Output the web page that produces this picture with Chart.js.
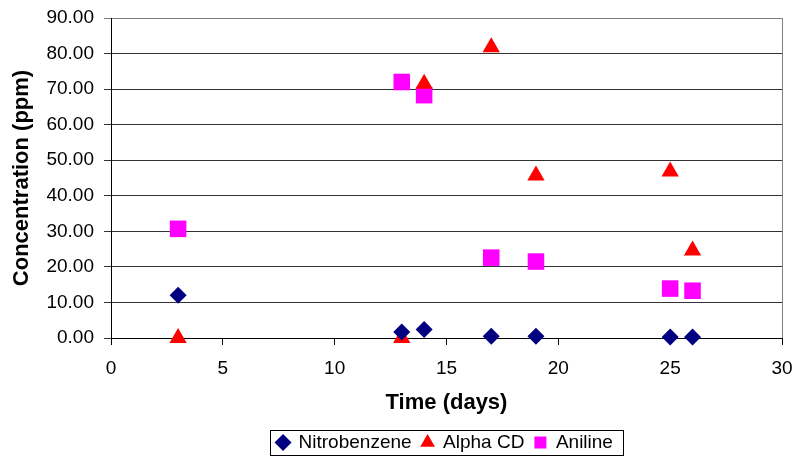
<!DOCTYPE html>
<html>
<head>
<meta charset="utf-8">
<script src="https://cdn.jsdelivr.net/npm/chart.js@4"></script>
<style>
  html, body { margin: 0; padding: 0; background: #fff; }
  #wrap { width: 795px; height: 459px; }
</style>
</head>
<body>
<div id="wrap"><canvas id="chart" width="795" height="459"></canvas></div>
<script>
const days = [3, 13, 14, 17, 19, 25, 26];
const nitrobenzene = [12.0, 1.7, 2.4, 0.5, 0.5, 0.3, 0.3];
const alphaCD = [0, 0, 71.5, 81.8, 45.7, 46.8, 24.6];
const aniline = [30.7, 72.0, 68.3, 22.6, 21.5, 13.9, 13.3];
const xTicks = [0, 5, 10, 15, 20, 25, 30];
const yTicks = [0, 10, 20, 30, 40, 50, 60, 70, 80, 90];

const FONT = '"Liberation Sans", Arial, sans-serif';

function points(ys) {
  return days.map((d, i) => ({ x: d, y: ys[i] }));
}

// grey frame round the plot area + a box round the legend
const framePlugin = {
  id: 'frame',
  afterLayout(chart) {
    // the legend in the original sits a bit right of centre
    chart.legend.left += 54;
    chart.legend.right += 54;
  },
  afterDraw(chart) {
    const c = chart.ctx;
    const a = chart.chartArea;
    c.save();
    c.strokeStyle = '#808080';
    c.lineWidth = 1;
    c.beginPath();
    c.moveTo(Math.round(a.right) + 0.5, a.top);
    c.lineTo(Math.round(a.right) + 0.5, a.bottom);
    c.stroke();

    const hb = chart.legend.legendHitBoxes;
    if (hb && hb.length) {
      const left = Math.min(...hb.map(h => h.left)) - 7;
      const right = Math.max(...hb.map(h => h.left + h.width)) + 10;
      const top = hb[0].top - 3;
      const bottom = hb[0].top + hb[0].height + 3;
      c.strokeStyle = '#000';
      c.strokeRect(Math.round(left) + 0.5, Math.round(top) + 0.5, Math.round(right - left), Math.round(bottom - top));
    }
    c.restore();
  }
};

const ctx = document.getElementById('chart').getContext('2d');
new Chart(ctx, {
  type: 'scatter',
  data: {
    datasets: [
      {
        label: 'Nitrobenzene',
        data: points(nitrobenzene),
        pointStyle: 'rectRot',
        pointRadius: 8.5,
        backgroundColor: '#000080',
        borderColor: '#000080',
        borderWidth: 0,
        clip: false
      },
      {
        label: 'Alpha CD',
        data: points(alphaCD),
        pointStyle: 'triangle',
        pointRadius: 10,
        backgroundColor: '#FF0000',
        borderColor: '#FF0000',
        borderWidth: 0,
        clip: false
      },
      {
        label: 'Aniline',
        data: points(aniline),
        pointStyle: 'rect',
        pointRadius: 11.7,
        backgroundColor: '#FF00FF',
        borderColor: '#FF00FF',
        borderWidth: 0,
        clip: false
      }
    ]
  },
  options: {
    responsive: false,
    animation: false,
    layout: { padding: { left: 0, right: 13, top: 18, bottom: -3 } },
    plugins: {
      tooltip: { enabled: false },
      legend: {
        position: 'bottom',
        labels: {
          usePointStyle: true,
          boxWidth: 12,
          boxHeight: 12,
          padding: 10,
          color: '#000',
          font: { family: FONT, size: 19 }
        }
      }
    },
    scales: {
      x: {
        type: 'linear',
        min: 0,
        max: 30,
        afterBuildTicks(scale) { scale.ticks = xTicks.map(v => ({ value: v })); },
        afterFit(scale) {
          scale.height = 459 + 3 - 338 - scale.chart.legend.height;
          scale.paddingLeft = 0;
          scale.paddingRight = 0;
        },
        ticks: { color: '#000', padding: 12, maxRotation: 0, font: { family: FONT, size: 19 } },
        grid: { drawOnChartArea: false, drawTicks: true, tickLength: 7, color: '#000' },
        border: { display: true, color: '#000' },
        title: {
          display: true,
          text: 'Time (days)',
          color: '#000',
          padding: { top: 0, bottom: 7 },
          font: { family: FONT, size: 22, weight: 'bold' }
        }
      },
      y: {
        min: 0,
        max: 90,
        afterBuildTicks(scale) { scale.ticks = yTicks.map(v => ({ value: v })); },
        afterFit(scale) {
          scale.width = 111;
          scale.paddingTop = 0;
          scale.paddingBottom = 0;
        },
        ticks: {
          color: '#000',
          padding: 10,
          font: { family: FONT, size: 19 },
          callback: v => Number(v).toFixed(2)
        },
        grid: {
          tickLength: 7,
          color: ctx => (ctx.tick && ctx.tick.value === 90 ? '#808080' : '#333')
        },
        border: { display: true, color: '#000' },
        title: {
          display: true,
          text: 'Concentration (ppm)',
          color: '#000',
          padding: { top: 9, bottom: 0 },
          font: { family: FONT, size: 22, weight: 'bold' }
        }
      }
    }
  },
  plugins: [framePlugin]
});
</script>
</body>
</html>
